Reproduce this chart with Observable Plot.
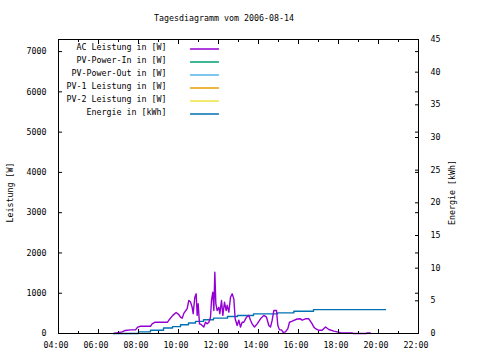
<!DOCTYPE html>
<html><head><meta charset="utf-8">
<script src="https://cdn.jsdelivr.net/npm/d3@7"></script>
<script src="https://cdn.jsdelivr.net/npm/@observablehq/plot@0.6"></script>
<style>body{margin:0;background:#fff}</style>
</head><body><div id="chart"></div>
<script>
const title = "Tagesdiagramm vom 2006-08-14";
const yLabel = "Leistung [W]";
const y2Label = "Energie [kWh]";

const acTimes = ["06:46","07:11","07:20","07:36","07:51","07:58","08:06","08:36","08:41","08:50","09:27","09:32","09:43","09:53","10:01","10:06","10:11","10:16","10:26","10:31","10:36","10:41","10:44","10:49","10:53","10:56","10:59","11:03","11:07","11:16","11:21","11:26","11:31","11:36","11:39","11:43","11:46","11:49","11:52","11:56","12:01","12:04","12:09","12:13","12:18","12:23","12:26","12:31","12:36","12:41","12:46","12:50","12:56","13:01","13:06","13:11","13:16","13:24","13:31","13:36","13:41","13:48","13:56","14:06","14:16","14:24","14:31","14:36","14:41","14:46","14:54","14:58","15:03","15:09","15:14","15:21","15:28","15:33","15:41","15:56","16:06","16:11","16:21","16:31","16:41","16:46","16:51","17:01","17:11","17:21","17:26","17:31","17:46","17:56","18:06","18:11","18:41","18:44","19:24","19:25","19:35","19:36"];
const acWatts = [0,40,75,90,90,160,180,180,240,280,280,340,450,520,470,405,380,500,620,820,780,650,490,900,985,450,740,240,230,160,280,240,280,405,820,1025,570,1520,740,570,650,490,820,450,780,570,700,530,900,985,860,365,200,330,160,280,280,405,450,330,240,160,240,365,450,405,200,160,330,570,570,200,90,90,30,40,120,280,305,360,365,330,365,365,240,160,120,80,80,160,130,100,60,40,20,15,15,0,0,15,15,0];

const energyTimes = ["06:46","08:00","08:36","09:15","09:42","10:06","10:30","10:51","11:15","11:45","12:27","12:57","13:45","14:57","15:46","16:45","20:21"];
const energyKWh = [0,0.25,0.5,0.85,1.05,1.35,1.6,1.85,2.1,2.35,2.6,2.75,3.0,3.15,3.4,3.65,3.65];

const xMajor = [4,6,8,10,12,14,16,18,20,22];
const xMajorLabels = ["04:00","06:00","08:00","10:00","12:00","14:00","16:00","18:00","20:00","22:00"];
const xMinor = [5,7,9,11,13,15,17,19,21];
const leftTicks = [0,1000,2000,3000,4000,5000,6000,7000];
const rightTicks = [0,5,10,15,20,25,30,35,40,45];
const leftMax = 7300;
const rightMax = 45;

const seriesNames = ["AC Leistung in [W]","PV-Power-In in [W]","PV-Power-Out in [W]","PV-1 Leistung in [W]","PV-2 Leistung in [W]","Energie in [kWh]"];
const seriesColors = ["#9400d3","#009e73","#56b4e9","#e69f00","#f0e442","#0072b2"];

const K = leftMax / rightMax;
const toHour = s => { const [h, m] = s.split(":").map(Number); return h + m / 60; };
const ac = acTimes.map((t, i) => ({t: toHour(t), w: acWatts[i]}));
const energy = energyTimes.map((t, i) => ({t: toHour(t), e: energyKWh[i]}));
const xLabelOf = d => xMajorLabels[xMajor.indexOf(d)];
const lineShape = {draw(ctx, l) { ctx.moveTo(0, 0); ctx.lineTo(0, -l); }};

const legendMarks = seriesNames.flatMap((name, i) => [
  Plot.text([name], {frameAnchor: "top-left", dx: 108, dy: 8 + 13 * i, textAnchor: "end", lineAnchor: "middle", text: d => d, fill: "black"}),
  Plot.vector([name], {frameAnchor: "top-left", dx: 132, dy: 9.5 + 13 * i, length: 28, rotate: 90, anchor: "start", shape: lineShape, stroke: seriesColors[i], strokeWidth: 1.3})
]);

const chart = Plot.plot({
  width: 480, height: 360,
  marginTop: 39, marginBottom: 27, marginLeft: 58, marginRight: 62,
  style: {fontFamily: "'DejaVu Sans Mono', monospace", fontSize: "8.3px", color: "black", background: "white"},
  x: {domain: [4, 22]},
  y: {domain: [0, leftMax]},
  marks: [
    Plot.line(energy, {x: "t", y: d => d.e * K, stroke: seriesColors[5], strokeWidth: 1.4, curve: "step-after"}),
    Plot.line(ac, {x: "t", y: "w", stroke: seriesColors[0], strokeWidth: 1.4}),
    Plot.frame({stroke: "black"}),
    Plot.axisX(xMajor, {anchor: "bottom", tickSize: 0, tickPadding: 9, dx: -2.5, tickFormat: xLabelOf, label: null}),
    Plot.axisX(xMajor, {anchor: "bottom", tickSize: -4, fill: "none", tickFormat: () => "", label: null}),
    Plot.axisX(xMinor, {anchor: "bottom", tickSize: -2, fill: "none", tickFormat: () => "", label: null}),
    Plot.axisX(xMajor, {anchor: "top", tickSize: -4, fill: "none", tickFormat: () => "", label: null}),
    Plot.axisX(xMinor, {anchor: "top", tickSize: -2, fill: "none", tickFormat: () => "", label: null}),
    Plot.axisY(leftTicks, {anchor: "left", tickSize: -4, tickPadding: 16, tickFormat: d => String(d), label: null}),
    Plot.axisY(leftTicks, {anchor: "right", tickSize: -4, fill: "none", tickFormat: () => "", label: null}),
    Plot.axisY(rightTicks.map(v => v * K), {anchor: "right", tickSize: -4, tickPadding: 16, tickFormat: d => String(Math.round(d / K)), label: null}),
    Plot.text([yLabel], {frameAnchor: "left", dx: -48, dy: 6, rotate: -90, textAnchor: "middle", lineAnchor: "middle", text: d => d, fill: "black"}),
    Plot.text([y2Label], {frameAnchor: "right", dx: 34, dy: 6, rotate: -90, textAnchor: "middle", lineAnchor: "middle", text: d => d, fill: "black"}),
    Plot.text([title], {frameAnchor: "top", dx: -14.5, dy: -21, lineAnchor: "middle", text: d => d, fill: "black"}),
    ...legendMarks
  ]
});
document.getElementById("chart").append(chart);
</script>
</body></html>
